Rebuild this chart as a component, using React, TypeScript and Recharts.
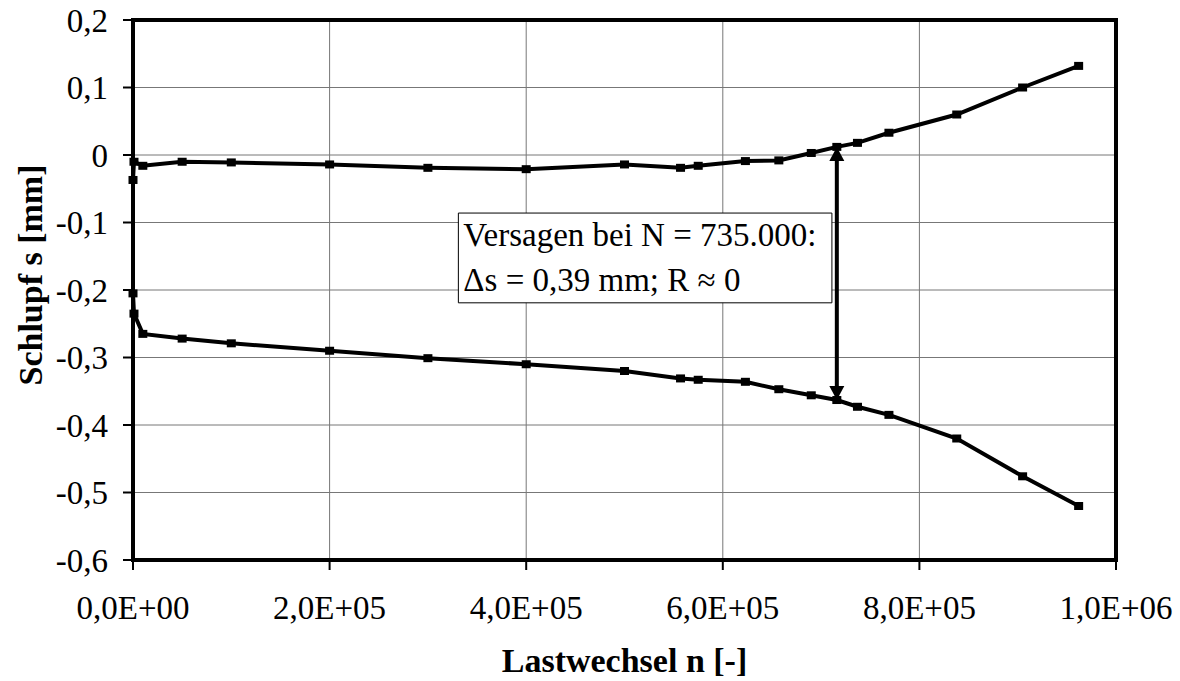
import React from 'react';
import { LineChart, Line, XAxis, YAxis, CartesianGrid, ReferenceArea, ReferenceLine } from 'recharts';

document.body.style.margin = '0';

// Lastwechsel n [-]
const N_CYCLES = [0, 1000, 10000, 50000, 100000, 200000, 300000, 400000, 500000, 557000, 575000, 623000, 657000, 690000, 716000, 737000, 769000, 838000, 905000, 962000];
// Schlupf s [mm], obere und untere Kurve
const S_UPPER = [-0.037, -0.010, -0.016, -0.010, -0.011, -0.014, -0.019, -0.021, -0.014, -0.019, -0.016, -0.009, -0.008, 0.003, 0.012, 0.018, 0.033, 0.060, 0.100, 0.132];
const S_LOWER = [-0.205, -0.235, -0.265, -0.272, -0.279, -0.290, -0.301, -0.310, -0.320, -0.331, -0.333, -0.336, -0.347, -0.356, -0.363, -0.373, -0.385, -0.420, -0.476, -0.520];

const X_TICKS = [0, 200000, 400000, 600000, 800000, 1000000];
const Y_TICKS = [-0.6, -0.5, -0.4, -0.3, -0.2, -0.1, 0, 0.1, 0.2];

// Versagen: Pfeil und Textfeld
const FAIL_N = 716000;
const FAIL_TOP = 0.012;
const FAIL_BOTTOM = -0.363;
const NOTE_X = [331000, 711000];
const NOTE_Y = [-0.219, -0.086];
const NOTE_LINES = ['Versagen bei N = 735.000:', '\u0394s = 0,39 mm; R \u2248 0'];

const FONT = '"Liberation Serif", "Times New Roman", serif';

const fmtX = (v: number) => {
  if (v === 0) return '0,0E+00';
  const e = Math.floor(Math.log10(v));
  const m = v / Math.pow(10, e);
  return m.toFixed(1).replace('.', ',') + 'E+' + String(e).padStart(2, '0');
};
const fmtY = (v: number) => (Math.abs(v) < 1e-9 ? '0' : v.toFixed(1).replace('.', ','));

const SquareDot = (props: any) => {
  const { cx, cy } = props;
  if (cx == null || cy == null) return null;
  return <rect x={cx - 4.5} y={cy - 4} width={9} height={8} fill="#000" />;
};

const DoubleArrow = (props: any) => {
  const { x1, y1, y2 } = props;
  const top = Math.min(y1, y2);
  const bot = Math.max(y1, y2);
  const h = 14;
  const w = 7.5;
  return (
    <g>
      <line x1={x1} y1={top + h} x2={x1} y2={bot - h} stroke="#000" strokeWidth={4} />
      <polygon points={`${x1},${top} ${x1 - w},${top + h} ${x1 + w},${top + h}`} fill="#000" />
      <polygon points={`${x1},${bot} ${x1 - w},${bot - h} ${x1 + w},${bot - h}`} fill="#000" />
    </g>
  );
};

const NoteText = (props: any) => {
  const { x, y } = props.viewBox;
  return (
    <g>
      {NOTE_LINES.map((t, i) => (
        <text key={i} x={x + 5} y={y + 33 + i * 45} style={{ fontFamily: FONT }} fontSize={33} fill="#000">
          {t}
        </text>
      ))}
    </g>
  );
};

const YTitle = (props: any) => {
  const { x, y, height } = props.viewBox;
  const cx = x + 30;
  const cy = y + height / 2 - 15;
  return (
    <text
      x={cx}
      y={cy}
      transform={`rotate(-90, ${cx}, ${cy})`}
      textAnchor="middle"
      dominantBaseline="central"
      style={{ fontFamily: FONT }}
      fontSize={34}
      fontWeight={700}
      fill="#000"
    >
      Schlupf s [mm]
    </text>
  );
};

export default function App() {
  const data = N_CYCLES.map((n, i) => ({ n, upper: S_UPPER[i], lower: S_LOWER[i] }));
  const tickStyle = { fontSize: 33, fill: '#000', style: { fontFamily: FONT } };
  const titleStyle = { fontSize: 34, fontWeight: 700, fill: '#000', fontFamily: FONT, textAnchor: 'middle' as const };

  return (
    <div style={{ width: 1180, height: 681, fontFamily: FONT }}>
      <LineChart width={1180} height={681} data={data} margin={{ top: 20, right: 64, bottom: 0, left: 0 }}>
        <CartesianGrid stroke="#777" strokeWidth={1} />
        <XAxis
          dataKey="n"
          type="number"
          domain={[0, 1000000]}
          ticks={X_TICKS}
          tickFormatter={fmtX}
          tick={tickStyle}
          tickSize={10}
          tickMargin={26}
          height={121}
          axisLine={{ stroke: '#000', strokeWidth: 4 }}
          tickLine={{ stroke: '#000', strokeWidth: 2 }}
          label={{ value: 'Lastwechsel n [-]', position: 'insideBottom', offset: 9, style: titleStyle }}
        />
        <YAxis
          type="number"
          domain={[-0.6, 0.2]}
          ticks={Y_TICKS}
          tickFormatter={fmtY}
          tick={tickStyle}
          tickSize={10}
          tickMargin={15}
          width={133}
          axisLine={{ stroke: '#000', strokeWidth: 4 }}
          tickLine={{ stroke: '#000', strokeWidth: 2 }}
          label={<YTitle />}
        />
        <ReferenceArea x1={0} x2={1000000} y1={-0.6} y2={0.2} fill="none" stroke="#000" strokeWidth={4} />
        <Line
          dataKey="upper"
          type="linear"
          stroke="#000"
          strokeWidth={4}
          dot={<SquareDot />}
          activeDot={false}
          isAnimationActive={false}
        />
        <Line
          dataKey="lower"
          type="linear"
          stroke="#000"
          strokeWidth={4}
          dot={<SquareDot />}
          activeDot={false}
          isAnimationActive={false}
        />
        <ReferenceArea
          x1={NOTE_X[0]}
          x2={NOTE_X[1]}
          y1={NOTE_Y[0]}
          y2={NOTE_Y[1]}
          fill="#fff"
          fillOpacity={1}
          stroke="#000"
          strokeWidth={1}
          label={<NoteText />}
        />
        <ReferenceLine
          segment={[{ x: FAIL_N, y: FAIL_TOP }, { x: FAIL_N, y: FAIL_BOTTOM }]}
          shape={<DoubleArrow />}
        />
      </LineChart>
    </div>
  );
}
